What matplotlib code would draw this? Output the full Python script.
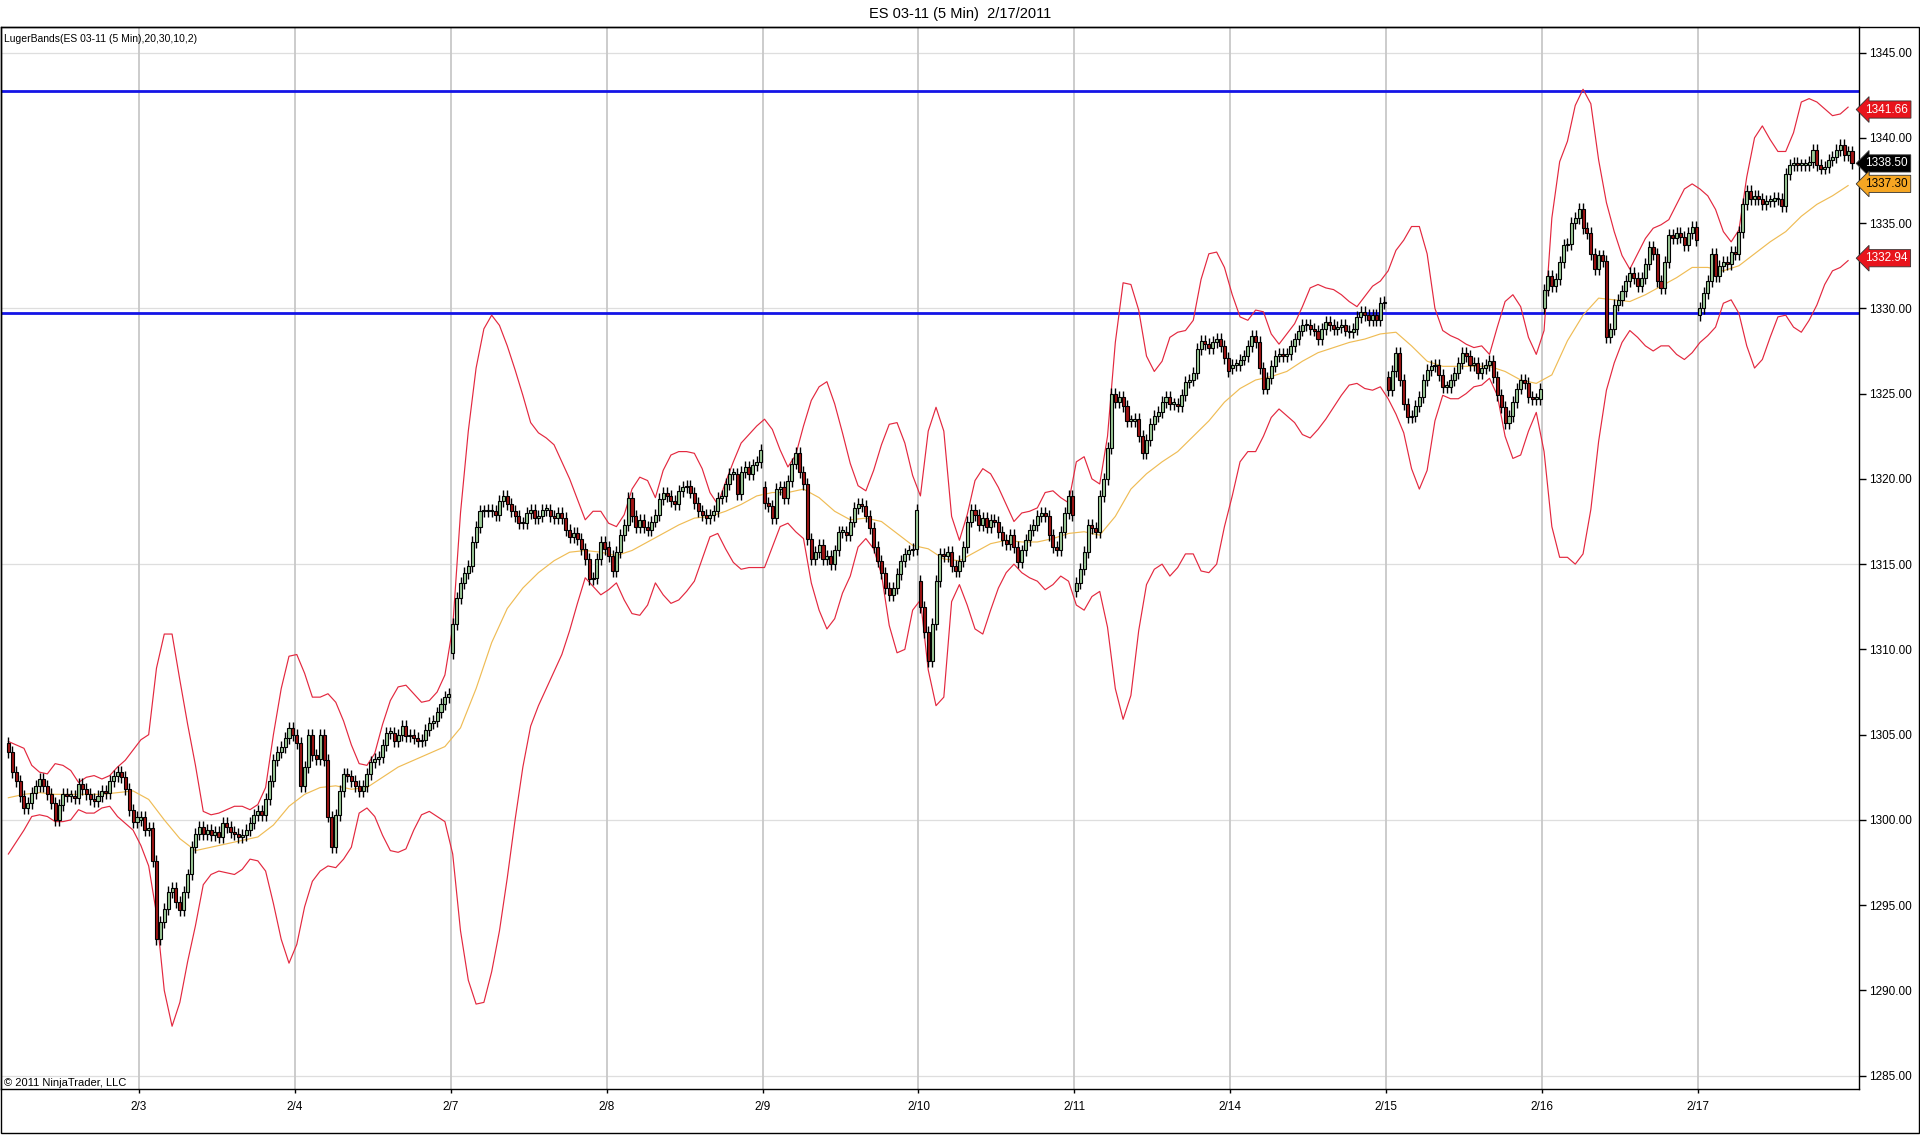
import numpy as np
import matplotlib
matplotlib.use("Agg")
import matplotlib.pyplot as plt
from matplotlib.patches import Rectangle
from matplotlib.transforms import blended_transform_factory

plt.rcParams['font.family'] = ['Liberation Sans', 'DejaVu Sans']

# --- closes per session (5 min bars) ---
d0202 = [1304.0, 1302.8, 1302.3, 1301.4, 1300.7, 1301.0, 1301.6, 1302.0, 1302.4, 1302.0,
         1301.5, 1301.0, 1300.0, 1300.9, 1301.5, 1301.4, 1301.4, 1301.3, 1302.1, 1301.8,
         1301.5, 1301.2, 1301.1, 1301.4, 1301.7, 1301.6, 1302.3, 1302.6, 1302.8, 1302.5,
         1301.8, 1300.6, 1299.9, 1300.2]
d0203 = [1300.2, 1299.4, 1299.5, 1297.6, 1293.0, 1294.0, 1294.8, 1295.8, 1296.0, 1295.2,
         1294.7, 1295.8, 1296.8, 1298.4, 1299.2, 1299.6, 1299.2, 1299.4, 1299.1, 1299.3,
         1299.0, 1299.8, 1299.6, 1299.3, 1299.2, 1299.0, 1299.1, 1299.4, 1299.8, 1300.3,
         1300.5, 1300.3, 1301.2, 1302.3, 1303.5, 1304.0, 1304.3, 1304.8, 1305.4, 1305.0]
d0204 = [1304.5, 1302.0, 1303.1, 1305.0, 1303.8, 1303.6, 1305.0, 1303.5, 1300.2, 1298.4,
         1300.3, 1301.7, 1302.7, 1302.6, 1302.3, 1302.0, 1301.7, 1302.0, 1302.7, 1303.4,
         1303.6, 1303.7, 1304.4, 1305.1, 1305.1, 1304.6, 1305.0, 1305.5, 1304.9, 1305.0,
         1304.8, 1304.6, 1304.7, 1305.3, 1305.7, 1305.8, 1306.3, 1306.8, 1307.2, 1307.4]
d0207 = [1311.5, 1313.0, 1313.9, 1314.5, 1314.9, 1316.3, 1317.2, 1318.1, 1318.1, 1318.2,
         1318.1, 1317.9, 1318.7, 1319.0, 1318.5, 1318.1, 1317.8, 1317.4, 1317.4, 1318.0,
         1318.2, 1317.7, 1317.8, 1318.2, 1318.2, 1317.8, 1317.7, 1318.0, 1317.7, 1317.0,
         1316.6, 1316.8, 1316.5, 1315.9, 1315.3, 1314.1, 1314.2, 1315.3, 1316.3, 1315.9]
d0208 = [1315.5, 1314.6, 1315.7, 1316.7, 1317.3, 1318.9, 1317.8, 1317.2, 1317.6, 1317.2,
         1317.0, 1317.5, 1317.9, 1318.8, 1319.2, 1319.0, 1318.7, 1318.5, 1319.3, 1319.5,
         1319.6, 1319.2, 1318.6, 1318.1, 1317.9, 1317.7, 1317.9, 1318.1, 1318.9, 1319.0,
         1319.7, 1320.3, 1320.3, 1319.1, 1320.4, 1320.7, 1320.3, 1320.8, 1321.0, 1321.7]
d0209 = [1318.6, 1318.4, 1317.7, 1319.4, 1319.5, 1318.9, 1319.9, 1320.9, 1321.5, 1320.4,
         1319.7, 1316.5, 1315.3, 1315.7, 1316.1, 1315.3, 1315.5, 1315.0, 1315.8, 1316.9,
         1316.9, 1316.7, 1317.5, 1318.3, 1318.5, 1318.4, 1317.8, 1317.1, 1316.0, 1315.2,
         1314.5, 1313.6, 1313.2, 1313.6, 1314.4, 1315.2, 1315.6, 1315.8, 1315.9, 1318.2]
d0210 = [1312.5, 1311.0, 1309.3, 1311.5, 1314.0, 1315.6, 1315.5, 1315.7, 1314.9, 1314.6,
         1315.2, 1316.0, 1317.5, 1318.2, 1317.9, 1317.3, 1317.7, 1317.2, 1317.6, 1317.5,
         1316.9, 1316.4, 1316.2, 1316.7, 1316.0, 1315.1, 1315.8, 1316.4, 1317.0, 1317.3,
         1317.8, 1318.0, 1317.8, 1316.7, 1316.0, 1315.8, 1316.9, 1318.0, 1319.0, 1317.9]
d0211 = [1313.9, 1314.7, 1315.7, 1317.3, 1317.1, 1316.9, 1319.0, 1320.0, 1321.8, 1325.0,
         1324.5, 1324.8, 1324.3, 1323.4, 1323.4, 1323.5, 1322.5, 1321.5, 1322.3, 1323.2,
         1323.7, 1323.9, 1324.5, 1324.8, 1324.4, 1324.4, 1324.3, 1324.9, 1325.7, 1325.8,
         1326.2, 1327.6, 1328.1, 1327.9, 1327.7, 1328.0, 1328.2, 1327.8, 1327.1, 1326.3]
d0214 = [1326.7, 1326.7, 1327.0, 1327.2, 1327.8, 1328.4, 1328.0, 1326.5, 1325.3, 1325.9,
         1326.6, 1327.2, 1327.3, 1327.2, 1327.3, 1327.8, 1328.2, 1328.7, 1329.0, 1329.0,
         1328.8, 1328.7, 1328.2, 1328.8, 1329.2, 1329.0, 1328.8, 1328.9, 1329.0, 1328.7,
         1328.6, 1328.8, 1329.5, 1329.8, 1329.6, 1329.3, 1329.6, 1329.3, 1330.3, 1330.4]
d0215 = [1325.2, 1326.3, 1327.4, 1325.8, 1324.4, 1323.6, 1323.7, 1324.3, 1324.8, 1325.8,
         1326.4, 1326.6, 1326.7, 1326.1, 1325.4, 1325.4, 1325.8, 1326.2, 1326.8, 1327.4,
         1327.2, 1326.7, 1326.8, 1326.2, 1326.5, 1326.7, 1326.9, 1326.0, 1324.9, 1324.2,
         1323.3, 1323.7, 1324.5, 1325.3, 1325.8, 1325.6, 1324.8, 1324.7, 1324.7, 1325.3]
d0216 = [1331.1, 1331.9, 1331.3, 1331.7, 1332.7, 1333.7, 1333.8, 1335.0, 1335.3, 1335.8,
         1334.7, 1334.4, 1333.2, 1332.3, 1333.1, 1332.8, 1328.3, 1328.8, 1330.2, 1330.5,
         1331.0, 1331.6, 1332.1, 1331.8, 1331.3, 1331.8, 1332.6, 1333.6, 1333.2, 1331.6,
         1331.2, 1332.7, 1334.3, 1334.1, 1334.4, 1334.2, 1333.7, 1334.4, 1334.8, 1334.0]
d0217 = [1330.0, 1330.9, 1331.6, 1333.2, 1331.9, 1332.5, 1332.7, 1332.6, 1333.3, 1333.2,
         1334.5, 1336.1, 1336.9, 1336.4, 1336.6, 1336.4, 1336.1, 1336.3, 1336.3, 1336.5,
         1336.4, 1336.0, 1337.9, 1338.4, 1338.5, 1338.4, 1338.4, 1338.4, 1338.6, 1339.3,
         1338.4, 1338.2, 1338.3, 1338.7, 1338.9, 1339.3, 1339.6, 1339.0, 1339.2, 1338.5]

# session opening prices
day_opens = [1304.5, 1300.0, 1305.0, 1309.8, 1316.0, 1319.5, 1314.0, 1313.4,
             1326.5, 1326.0, 1330.0, 1329.6]
day_labels = ['2/3', '2/4', '2/7', '2/8', '2/9', '2/10', '2/11', '2/14', '2/15', '2/16', '2/17']

# LugerBands outer bands, one value every 2 bars
band_step = 2
upper = [1304.6, 1304.4, 1304.2, 1303.2, 1302.8, 1302.7, 1303.3, 1303.2, 1302.9, 1302.2,
         1302.5, 1302.6, 1302.4, 1302.6, 1303.1, 1303.5, 1304.1, 1304.7, 1305.0, 1308.9,
         1310.9, 1310.9, 1308.2, 1305.6, 1303.2, 1300.5, 1300.3, 1300.4, 1300.6, 1300.8,
         1300.8, 1300.6, 1300.9, 1301.9, 1305.0, 1307.7, 1309.6, 1309.7, 1308.6, 1307.2,
         1307.2, 1307.4, 1306.9, 1305.8, 1304.4, 1303.3, 1303.2, 1303.9, 1305.6, 1307.0,
         1307.8, 1307.9, 1307.4, 1306.9, 1307.0, 1307.5, 1308.5, 1311.3, 1318.0, 1322.8,
         1326.5, 1328.8, 1329.6, 1329.0, 1327.8, 1326.4, 1324.9, 1323.3, 1322.7, 1322.4,
         1322.0, 1321.0, 1320.0, 1318.8, 1317.6, 1318.1, 1318.1, 1317.4, 1317.2, 1317.9,
         1319.4, 1320.1, 1319.9, 1318.9, 1320.5, 1321.4, 1321.6, 1321.6, 1321.5, 1320.6,
         1319.2, 1318.5, 1319.8, 1321.0, 1322.1, 1322.6, 1323.1, 1323.5, 1322.9, 1321.7,
         1320.7, 1321.4, 1323.1, 1324.6, 1325.4, 1325.7, 1324.4, 1322.7, 1320.9, 1319.6,
         1319.3, 1320.5, 1322.0, 1323.2, 1323.3, 1322.1, 1320.2, 1319.0, 1322.8, 1324.2,
         1322.8, 1317.8, 1316.4, 1317.9, 1319.9, 1320.6, 1320.3, 1319.5, 1318.5, 1317.5,
         1318.0, 1318.1, 1318.3, 1319.2, 1319.3, 1318.9, 1318.6, 1321.0, 1321.3, 1320.0,
         1319.7, 1322.5, 1328.0, 1331.5, 1331.4, 1329.9, 1327.2, 1326.3, 1326.9, 1328.3,
         1328.6, 1328.7, 1329.3, 1331.7, 1333.2, 1333.3, 1332.4, 1330.8, 1329.5, 1329.3,
         1329.9, 1329.8, 1328.5, 1327.9, 1328.5, 1329.1, 1330.1, 1331.2, 1331.4, 1331.2,
         1331.1, 1330.8, 1330.4, 1330.1, 1330.7, 1331.3, 1331.6, 1332.2, 1333.4, 1334.0,
         1334.8, 1334.8, 1333.2, 1330.0, 1328.7, 1328.4, 1328.2, 1327.9, 1327.7, 1327.8,
         1327.3, 1328.9, 1330.4, 1330.8, 1330.1, 1328.3, 1327.3, 1328.7, 1335.3, 1338.6,
         1339.8, 1341.9, 1342.85, 1342.0, 1338.7, 1336.2, 1334.5, 1333.1, 1332.3, 1333.2,
         1334.1, 1334.7, 1334.9, 1335.2, 1336.1, 1337.0, 1337.3, 1337.0, 1336.6, 1335.8,
         1334.5, 1333.9, 1334.6, 1337.7, 1340.0, 1340.7, 1339.9, 1339.2, 1339.2, 1340.3,
         1342.1, 1342.3, 1342.1, 1341.7, 1341.3, 1341.4, 1341.8]
lower = [1298.0, 1298.7, 1299.4, 1300.2, 1300.3, 1300.2, 1299.9, 1299.9, 1300.0, 1300.6,
         1300.4, 1300.4, 1300.7, 1300.8, 1300.2, 1299.8, 1299.4, 1298.5, 1297.3, 1294.5,
         1290.0, 1287.9, 1289.3, 1291.7, 1293.8, 1296.2, 1296.8, 1297.0, 1296.9, 1296.8,
         1297.1, 1297.7, 1297.6, 1297.0, 1295.1, 1293.0, 1291.6, 1292.7, 1294.9, 1296.4,
         1297.0, 1297.3, 1297.2, 1297.7, 1298.4, 1300.4, 1300.7, 1300.2, 1299.1, 1298.2,
         1298.1, 1298.3, 1299.4, 1300.3, 1300.5, 1300.2, 1299.9, 1298.0, 1293.5, 1290.6,
         1289.2, 1289.3, 1291.1, 1293.5, 1296.6, 1300.0, 1303.1, 1305.5, 1306.7, 1307.7,
         1308.7, 1309.7, 1311.1, 1312.7, 1314.2, 1313.7, 1313.2, 1313.5, 1313.9, 1312.9,
         1312.1, 1312.0, 1312.6, 1313.9, 1313.2, 1312.7, 1312.9, 1313.4, 1314.0, 1315.3,
         1316.6, 1316.8, 1315.9, 1315.1, 1314.7, 1314.8, 1314.8, 1314.8, 1316.0, 1317.2,
         1317.4, 1316.9, 1316.5, 1313.9, 1312.3, 1311.2, 1311.8, 1313.3, 1314.3, 1316.0,
         1316.5, 1315.9, 1314.4, 1311.4, 1309.8, 1310.0, 1312.3, 1312.9, 1308.8, 1306.7,
         1307.2, 1312.8, 1313.8, 1312.6, 1311.2, 1310.9, 1312.3, 1313.6, 1314.5, 1315.0,
         1314.5, 1314.2, 1314.0, 1313.5, 1313.8, 1314.3, 1314.0, 1312.6, 1312.3, 1313.1,
         1313.4, 1311.3, 1307.7, 1305.9, 1307.3, 1311.1, 1313.8, 1314.7, 1315.0, 1314.3,
         1314.8, 1315.6, 1315.6, 1314.6, 1314.5, 1315.0, 1317.2, 1319.0, 1321.0, 1321.6,
         1321.6, 1322.5, 1323.6, 1324.1, 1323.7, 1323.3, 1322.6, 1322.4, 1322.9, 1323.5,
         1324.2, 1324.9, 1325.5, 1325.6, 1325.3, 1325.2, 1325.4, 1324.7, 1323.8, 1322.7,
         1320.6, 1319.4, 1320.5, 1323.4, 1324.9, 1324.7, 1324.7, 1325.0, 1325.4, 1325.5,
         1325.9, 1324.9, 1322.5, 1321.2, 1321.4, 1322.8, 1323.9, 1321.6, 1317.2, 1315.4,
         1315.4, 1315.0, 1315.6, 1318.2, 1322.2, 1325.2, 1326.8, 1328.0, 1328.7, 1328.3,
         1327.8, 1327.5, 1327.8, 1327.8, 1327.3, 1327.0, 1327.4, 1328.0, 1328.4, 1328.9,
         1330.3, 1330.5, 1329.7, 1327.8, 1326.5, 1327.0, 1328.3, 1329.5, 1329.6, 1328.9,
         1328.6, 1329.3, 1330.2, 1331.4, 1332.2, 1332.4, 1332.8]

# middle band, one value every 4 bars
mid_step = 4
middle = [1301.3, 1301.5, 1301.6, 1301.5, 1301.5, 1301.5, 1301.5, 1301.6, 1301.7, 1301.2,
          1300.0, 1298.9, 1298.2, 1298.4, 1298.6, 1298.8, 1299.0, 1299.7, 1300.8, 1301.5,
          1301.9, 1302.0, 1301.8, 1301.9, 1302.5, 1303.1, 1303.5, 1303.9, 1304.3, 1305.4,
          1307.7, 1310.4, 1312.4, 1313.6, 1314.5, 1315.2, 1315.7, 1315.8, 1315.7, 1315.5,
          1315.8, 1316.3, 1316.8, 1317.3, 1317.7, 1317.8, 1318.1, 1318.5, 1319.0, 1319.2,
          1319.2, 1319.4, 1318.9, 1318.1, 1317.6, 1317.7, 1317.5, 1316.8, 1316.1, 1315.9,
          1315.3, 1315.2, 1315.7, 1316.2, 1316.4, 1316.3, 1316.3, 1316.5, 1316.8, 1316.9,
          1316.7, 1317.8, 1319.4, 1320.3, 1321.0, 1321.6, 1322.5, 1323.4, 1324.5, 1325.3,
          1325.8, 1326.0, 1326.3, 1326.9, 1327.4, 1327.7, 1328.0, 1328.2, 1328.5, 1328.6,
          1327.8, 1326.9, 1326.6, 1326.6, 1326.6, 1326.6, 1326.3, 1325.8, 1325.6, 1326.1,
          1328.1, 1329.6, 1330.6, 1330.5, 1330.4, 1330.8, 1331.3, 1331.8, 1332.4, 1332.4,
          1332.2, 1332.5, 1333.2, 1333.9, 1334.5, 1335.4, 1336.1, 1336.6, 1337.2]

# horizontal lines drawn by the user
level_lines = [1342.75, 1329.75]

# price markers on the right axis: value, box colour, text colour
tag_values = [1341.66, 1338.50, 1337.30, 1332.94]
tag_colors = ['#e8141c', '#000000', '#f5a623', '#e8141c']
tag_text = ['white', 'white', 'black', 'white']

# --- build bars ---
days = [d0202, d0203, d0204, d0207, d0208, d0209, d0210, d0211, d0214, d0215, d0216, d0217]
closes = np.concatenate([np.array(d, dtype=float) for d in days])
opens = np.empty_like(closes)
day_starts = []
pos = 0
for k, d in enumerate(days):
    day_starts.append(pos)
    opens[pos] = day_opens[k]
    opens[pos + 1:pos + len(d)] = d[:-1]
    pos += len(d)
x = np.arange(len(closes))

wick = 0.35  # wick beyond body, in points
lo = np.minimum(opens, closes)
hi = np.maximum(opens, closes)
up = closes >= opens

fig = plt.figure(figsize=(19.2, 11.35), dpi=100)
ax = fig.add_axes([0.0005, 1 - 1089 / 1135, 1859 / 1920 - 0.0005, (1089 - 27) / 1135])

# grid
for v in [1285, 1300, 1315, 1330, 1345]:
    ax.axhline(v, color='#dedede', lw=0.9, zorder=0)
for s in day_starts[1:]:
    ax.axvline(s - 0.5, color='#c8c8c8', lw=1.3, zorder=0)

for v in level_lines:
    ax.axhline(v, color='#1414e6', lw=2.0, zorder=2)

ax.plot(np.arange(len(upper)) * band_step, upper, color='#e3283f', lw=0.85, zorder=2)
ax.plot(np.arange(len(lower)) * band_step, lower, color='#e3283f', lw=0.85, zorder=2)
ax.plot(np.arange(len(middle)) * mid_step, middle, color='#efbc55', lw=0.85, zorder=2)

# candles
ax.vlines(x, lo - wick, hi + wick, color='black', lw=1.0, zorder=3)
ax.bar(x, np.maximum(hi - lo, 0.1), bottom=lo, width=0.78,
       color=np.where(up, '#9ccb98', '#9e1414'), edgecolor='black', linewidth=0.8, zorder=4)

ax.set_xlim(-1.9, 474.8)
ax.set_ylim(1284.22, 1346.5)

ax.yaxis.tick_right()
ax.set_yticks(np.arange(1285, 1346, 5))
ax.yaxis.set_major_formatter(matplotlib.ticker.FormatStrFormatter('%.2f'))
ax.tick_params(axis='y', length=5, width=1, labelsize=8.5, pad=2, colors='black')
ax.set_xticks([s - 0.5 for s in day_starts[1:]])
ax.set_xticklabels(day_labels)
ax.tick_params(axis='x', length=3, width=1, labelsize=8.5, pad=6)
for sp in ax.spines.values():
    sp.set_color('black')
    sp.set_linewidth(1.0)

# price tags
tr = blended_transform_factory(ax.transAxes, ax.transData)
for v, c, tc in zip(tag_values, tag_colors, tag_text):
    ax.text(1.0035, v, f'{v:.2f}', transform=tr, va='center', ha='left', fontsize=8.5,
            color=tc, bbox=dict(boxstyle='larrow,pad=0.22', fc=c, ec='#333333', lw=0.6),
            clip_on=False, zorder=6)

fig.text(0.5, 1 - 14 / 1135, 'ES 03-11 (5 Min)  2/17/2011', ha='center', va='center', fontsize=10.5)
fig.text(4 / 1920, 1 - 39 / 1135, 'LugerBands(ES 03-11 (5 Min),20,30,10,2)',
         ha='left', va='center', fontsize=7.5)
fig.text(4 / 1920, 1 - 1083 / 1135, '\u00a9 2011 NinjaTrader, LLC', ha='left', va='center', fontsize=8)

fig.add_artist(Rectangle((0.0005, 0.0018), 0.999, 1 - 27 / 1135 - 0.0018, transform=fig.transFigure,
                         fill=False, ec='black', lw=1.0))

fig.savefig('out.png', dpi=100)
